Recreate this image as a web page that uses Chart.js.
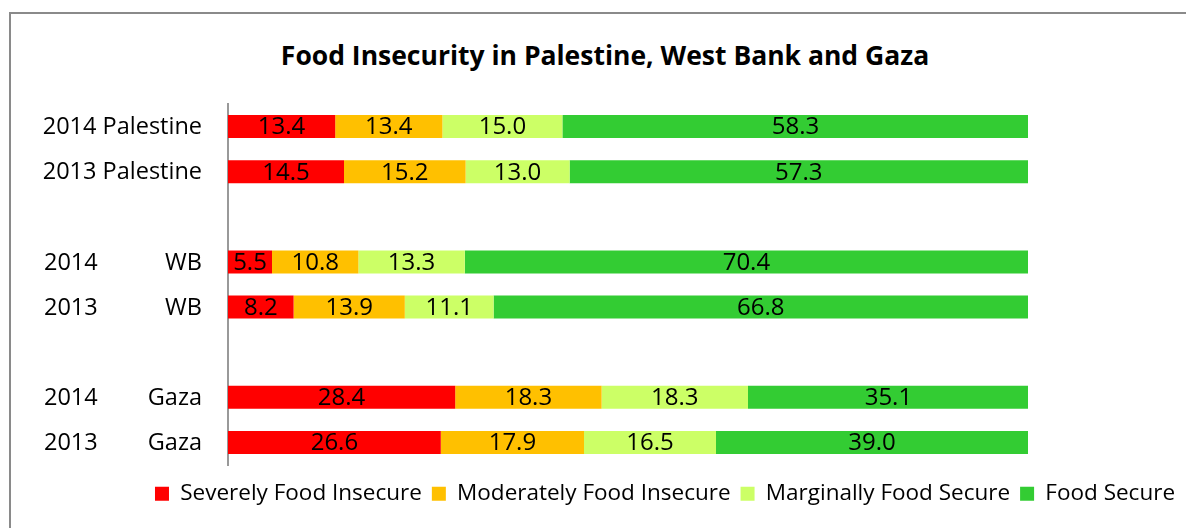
<!DOCTYPE html>
<html>
<head>
<meta charset="utf-8">
<script src="https://cdn.jsdelivr.net/npm/chart.js@4.4.1/dist/chart.umd.min.js"></script>
<style>
  html, body { margin: 0; padding: 0; background: #fff; overflow: hidden; }
  #frame {
    position: absolute; left: 9px; top: 12px; width: 1177px; height: 516px;
    border-left: 2px solid #8a8a8a; border-top: 2px solid #8a8a8a;
  }
  #title {
    position: absolute; left: 0; top: 37px; width: 1210px; text-align: center;
    font: bold 26.5px "Open Sans", sans-serif; color: #000;
  }
  #wrap { position: absolute; left: 0; top: 0; width: 1186px; height: 528px; }
</style>
</head>
<body>
<div id="frame"></div>
<div id="title">Food Insecurity in Palestine, West Bank and Gaza</div>
<div id="wrap"><canvas id="chart"></canvas></div>
<script>
// rows, top to bottom (empty rows are the gaps between groups)
const years   = ["2014", "2013", "", "2014", "2013", "", "2014", "2013"];
const regions = ["Palestine", "Palestine", "", "WB", "WB", "", "Gaza", "Gaza"];

// percent of households
const severe   = [13.4, 14.5, null, 5.5, 8.2, null, 28.4, 26.6];
const moderate = [13.4, 15.2, null, 10.8, 13.9, null, 18.3, 17.9];
const marginal = [15.0, 13.0, null, 13.3, 11.1, null, 18.3, 16.5];
const secure   = [58.3, 57.3, null, 70.4, 66.8, null, 35.1, 39.0];

const labels = years.map((y, i) => (y + " " + regions[i]).trim());
const FONT = "'Open Sans', sans-serif";

/* -----------------------------------------------
   Value labels centred in each segment
------------------------------------------------ */
const segmentLabels = {
  id: "segmentLabels",
  afterDatasetsDraw(chart) {
    const ctx = chart.ctx;
    ctx.save();
    ctx.font = "24px " + FONT;
    ctx.fillStyle = "#000";
    ctx.textAlign = "center";
    ctx.textBaseline = "middle";
    chart.data.datasets.forEach((ds, di) => {
      chart.getDatasetMeta(di).data.forEach((bar, i) => {
        const v = ds.data[i];
        if (v == null) return;
        ctx.fillText(v.toFixed(1), (bar.x + bar.base) / 2, bar.y + 1);
      });
    });
    ctx.restore();
  }
};

/* -----------------------------------------------
   Row labels: year in a left column, region
   right-aligned against the axis
------------------------------------------------ */
const rowLabels = {
  id: "rowLabels",
  afterDraw(chart) {
    const ctx = chart.ctx;
    const yScale = chart.scales.y;
    const right = chart.chartArea.left - 26;
    const left = 44;
    ctx.save();
    ctx.font = "23.5px " + FONT;
    ctx.fillStyle = "#000";
    ctx.textBaseline = "middle";
    const space = ctx.measureText(" ").width;
    years.forEach((yr, i) => {
      if (!yr) return;
      const y = yScale.getPixelForValue(i) + 1;
      const rw = ctx.measureText(regions[i]).width;
      const yw = ctx.measureText(yr).width;
      ctx.textAlign = "right";
      ctx.fillText(regions[i], right, y);
      ctx.textAlign = "left";
      ctx.fillText(yr, Math.min(left, right - rw - space - yw), y);
    });
    ctx.restore();
  }
};

const common = { barPercentage: 0.51, categoryPercentage: 1.0 };

new Chart(document.getElementById("chart"), {
  type: "bar",
  data: {
    labels,
    datasets: [
      { label: "Severely Food Insecure", data: severe, backgroundColor: "#ff0000", ...common },
      { label: "Moderately Food Insecure", data: moderate, backgroundColor: "#ffc000", ...common },
      { label: "Marginally Food Secure", data: marginal, backgroundColor: "#ccff66", ...common },
      { label: "Food Secure", data: secure, backgroundColor: "#33cc33", ...common }
    ]
  },
  options: {
    indexAxis: "y",
    responsive: true,
    maintainAspectRatio: false,
    animation: false,
    layout: { padding: { left: 144, right: 0, top: 104, bottom: 13 } },
    scales: {
      x: {
        stacked: true, min: 0, max: 100,
        grid: { display: false }, border: { display: false },
        ticks: { display: false },
        afterFit(s) { s.height = 7.5; }
      },
      y: {
        stacked: true,
        grid: { display: false },
        border: { display: true, color: "#999", width: 2 },
        ticks: { display: false },
        afterFit(s) { s.width = 84; }
      },
      yr: {
        type: "linear", position: "right",
        grid: { display: false }, border: { display: false },
        ticks: { display: false },
        afterFit(s) { s.width = 158; }
      }
    },
    plugins: {
      tooltip: { enabled: false },
      legend: {
        position: "bottom",
        labels: {
          boxWidth: 14, boxHeight: 14, padding: 10,
          color: "#000",
          font: { family: FONT, size: 22.5 }
        }
      }
    }
  },
  plugins: [segmentLabels, rowLabels]
});
</script>
</body>
</html>
